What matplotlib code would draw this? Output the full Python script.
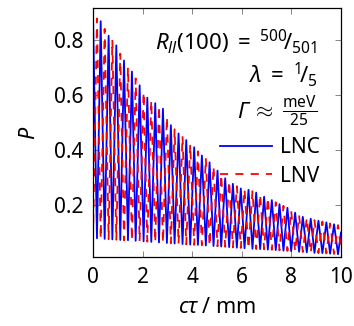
import matplotlib
matplotlib.use("Agg")
import matplotlib.pyplot as plt
from matplotlib.transforms import offset_copy

plt.rcParams['font.family'] = ['Noto Sans', 'DejaVu Sans']
plt.rcParams['mathtext.fontset'] = 'custom'
plt.rcParams['mathtext.rm'] = 'Noto Sans'
plt.rcParams['mathtext.it'] = 'Noto Sans:italic'
plt.rcParams['mathtext.bf'] = 'Noto Sans:bold'
plt.rcParams['mathtext.sf'] = 'Noto Sans'

# extrema positions (c*tau in mm) where the curves turn
ctau = [0.00, 0.16, 0.31, 0.47, 0.63, 0.78, 0.94, 1.10, 1.25, 1.41,
        1.57, 1.72, 1.88, 2.04, 2.19, 2.35, 2.51, 2.66, 2.82, 2.98,
        3.14, 3.29, 3.45, 3.61, 3.76, 3.92, 4.08, 4.23, 4.39, 4.55,
        4.70, 4.86, 5.02, 5.17, 5.33, 5.49, 5.64, 5.80, 5.96, 6.11,
        6.27, 6.43, 6.58, 6.74, 6.90, 7.05, 7.21, 7.37, 7.52, 7.68,
        7.84, 7.99, 8.15, 8.31, 8.46, 8.62, 8.78, 8.93, 9.09, 9.25,
        9.41, 9.56, 9.72, 9.88, 10.0]

p_lnc = [0.890, 0.079, 0.868, 0.077, 0.815, 0.075, 0.780, 0.073, 0.725, 0.072,
         0.685, 0.070, 0.635, 0.068, 0.590, 0.066, 0.570, 0.064, 0.550, 0.062,
         0.490, 0.060, 0.460, 0.058, 0.436, 0.056, 0.410, 0.055, 0.380, 0.053,
         0.355, 0.051, 0.325, 0.049, 0.297, 0.047, 0.277, 0.045, 0.260, 0.043,
         0.255, 0.041, 0.245, 0.040, 0.230, 0.038, 0.218, 0.036, 0.203, 0.034,
         0.190, 0.032, 0.172, 0.030, 0.157, 0.028, 0.150, 0.026, 0.143, 0.025,
         0.137, 0.023, 0.130, 0.021, 0.100]

p_lnv = [0.080, 0.878, 0.078, 0.840, 0.076, 0.800, 0.074, 0.750, 0.072, 0.700,
         0.071, 0.660, 0.069, 0.610, 0.067, 0.580, 0.065, 0.560, 0.063, 0.520,
         0.061, 0.475, 0.059, 0.450, 0.057, 0.420, 0.055, 0.395, 0.054, 0.370,
         0.052, 0.340, 0.050, 0.310, 0.048, 0.287, 0.046, 0.268, 0.044, 0.257,
         0.042, 0.250, 0.040, 0.238, 0.039, 0.226, 0.037, 0.210, 0.035, 0.197,
         0.033, 0.180, 0.031, 0.162, 0.029, 0.153, 0.027, 0.145, 0.025, 0.140,
         0.024, 0.133, 0.022, 0.127, 0.040]

series_labels = ['LNC', 'LNV']
xticks = [0, 2, 4, 6, 8, 10]
yticks = [0.2, 0.4, 0.6, 0.8]
annotations = [r'$R_{ll}(100)\;=\;{}^{500}\!/_{501}$',
               r'$\lambda\;=\;{}^{1}\!/_{5}$',
               r'$\approx\;\frac{\mathrm{meV}}{25}$']
gamma_symbol = 'Γ'

fig = plt.figure(figsize=(3.54, 3.26), dpi=100)
ax = fig.add_axes([93/354, 1-257/326, 248/354, 249/326])

ax.plot(ctau, p_lnc, color='blue', lw=1.3, label=series_labels[0])
ax.plot(ctau, p_lnv, color='red', lw=1.3, dashes=(4.5, 4), label=series_labels[1])

ax.set_xlim(0, 10)
ax.set_ylim(0.011, 0.916)
ax.set_xticks(xticks)
ax.set_xticklabels([str(t) for t in xticks])
ax.set_yticks(yticks)
ax.set_yticklabels([f'{t:.1f}' for t in yticks])
ax.tick_params(direction='in', length=4.5, width=0.6, color='0.45',
               top=True, right=True, labelsize=15, pad=7, labelcolor='black')
for s in ax.spines.values():
    s.set_linewidth(0.9)
    s.set_color('black')

ax.set_xlabel(r'$c\tau\;/\;\mathrm{mm}$', fontsize=15.5, labelpad=7)
ax.set_ylabel(r'$P$', fontsize=15.5, labelpad=10)

ybase = [0.831, 0.699, 0.558]
texts = []
for txt, yb in zip(annotations, ybase):
    texts.append(ax.text(0.905, yb, txt, transform=ax.transAxes, ha='right',
                         va='baseline', fontsize=16))

fig.canvas.draw()
r = fig.canvas.get_renderer()
bb = texts[2].get_window_extent(renderer=r)
x_left_axes = ax.transAxes.inverted().transform((bb.x0, bb.y0))[0]
gtrans = offset_copy(ax.transAxes, fig=fig, x=-3, y=0, units='points')
ax.text(x_left_axes, ybase[2], gamma_symbol, transform=gtrans, ha='right',
        va='baseline', fontsize=16, fontstyle='italic')

leg = ax.legend(loc='upper right', bbox_to_anchor=(0.915, 0.48), frameon=False,
                fontsize=15, handlelength=2.5, handletextpad=0.4,
                borderpad=0.0, labelspacing=0.35, borderaxespad=0.0)

fig.savefig('out.png', dpi=100)
